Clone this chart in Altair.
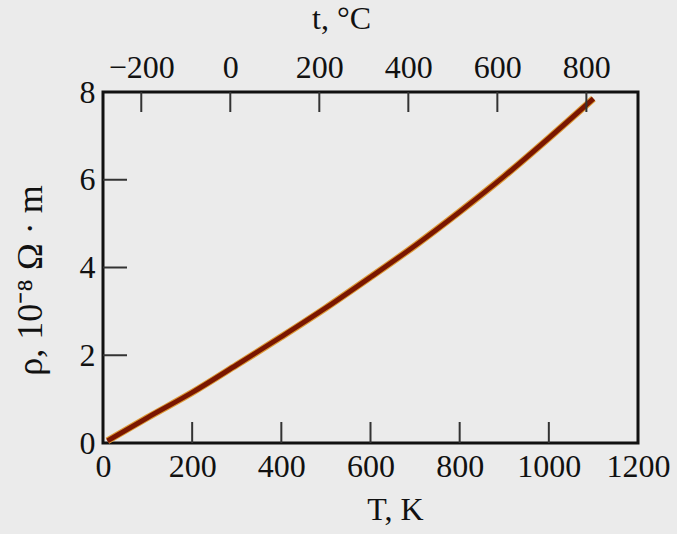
import altair as alt
import pandas as pd

# Resistivity curve
T_K = [10, 100, 200, 300, 400, 500, 600, 700, 800, 900, 1000, 1100]
rho = [0.05, 0.58, 1.15, 1.78, 2.42, 3.08, 3.78, 4.50, 5.27, 6.08, 6.95, 7.85]

x_labels_K = [0, 200, 400, 600, 800, 1000, 1200]
x_ticks_K = [200, 400, 600, 800, 1000]
y_labels = [0, 2, 4, 6, 8]
y_ticks = [2, 4, 6]
t_ticks_C = [-200, 0, 200, 400, 600, 800]

W, H = 535, 351
FONT = "Liberation Serif"

curve = pd.DataFrame({"T": T_K, "rho": rho})
xt = pd.DataFrame({"T": x_ticks_K})
yt = pd.DataFrame({"rho": y_ticks})
tc = pd.DataFrame({"tC": t_ticks_C})

xscale = alt.Scale(domain=[0, 1200], nice=False, zero=False)
yscale = alt.Scale(domain=[0, 8], nice=False)

x_axis = alt.Axis(
    values=x_labels_K, format="d", ticks=False, domain=False, grid=False,
    labelFlush=False, labelPadding=8, title="T, K", titleX=292, titlePadding=12,
)
y_axis = alt.Axis(
    values=y_labels, format="d", ticks=False, domain=False, grid=False,
    labelPadding=8, title="ρ, 10⁻⁸ Ω · m", titlePadding=30, titleFontSize=36,
    titleY=188,
)

halo = alt.Chart(curve).mark_line(color="#dc9a36", strokeWidth=7, interpolate="monotone").encode(
    x=alt.X("T:Q", scale=xscale, axis=x_axis),
    y=alt.Y("rho:Q", scale=yscale, axis=y_axis),
)
core = alt.Chart(curve).mark_line(color="#7a1600", strokeWidth=4.8, interpolate="monotone").encode(
    x=alt.X("T:Q", scale=xscale, axis=x_axis),
    y=alt.Y("rho:Q", scale=yscale, axis=y_axis),
)
bottom_ticks = alt.Chart(xt).mark_rule(color="#333333", strokeWidth=2).encode(
    x=alt.X("T:Q", scale=xscale, axis=x_axis),
    y=alt.value(H),
    y2=alt.value(H - 21),
)
left_ticks = alt.Chart(yt).mark_rule(color="#333333", strokeWidth=2).encode(
    y=alt.Y("rho:Q", scale=yscale, axis=y_axis),
    x=alt.value(0),
    x2=alt.value(24),
)
top_ticks = alt.Chart(tc).mark_rule(color="#333333", strokeWidth=2).encode(
    x=alt.X(
        "tC:Q",
        scale=alt.Scale(domain=[-286, 916], nice=False, zero=False),
        axis=alt.Axis(
            orient="top", values=t_ticks_C, format="d", ticks=False, domain=False, grid=False,
            labelFlush=False, labelPadding=8, title="t, °C", titleX=238, titlePadding=16,
        ),
    ),
    y=alt.value(0),
    y2=alt.value(20),
)

main = alt.layer(halo, core, bottom_ticks, left_ticks)

chart = (
    alt.layer(main, top_ticks)
    .resolve_scale(x="independent")
    .properties(
        width=W,
        height=H,
        background="#ebebeb",
        autosize=alt.AutoSizeParams(type="none"),
        padding={"left": 103, "top": 92, "right": 39, "bottom": 91},
    )
    .configure_view(stroke="#111111", strokeWidth=3, fill="#ebebeb")
    .configure_axis(
        labelFont=FONT, labelFontSize=32, labelColor="#111111",
        titleFont=FONT, titleFontSize=32, titleFontWeight="normal", titleColor="#111111",
    )
)

chart.save("out.html", embed_options={"renderer": "svg", "actions": False})
